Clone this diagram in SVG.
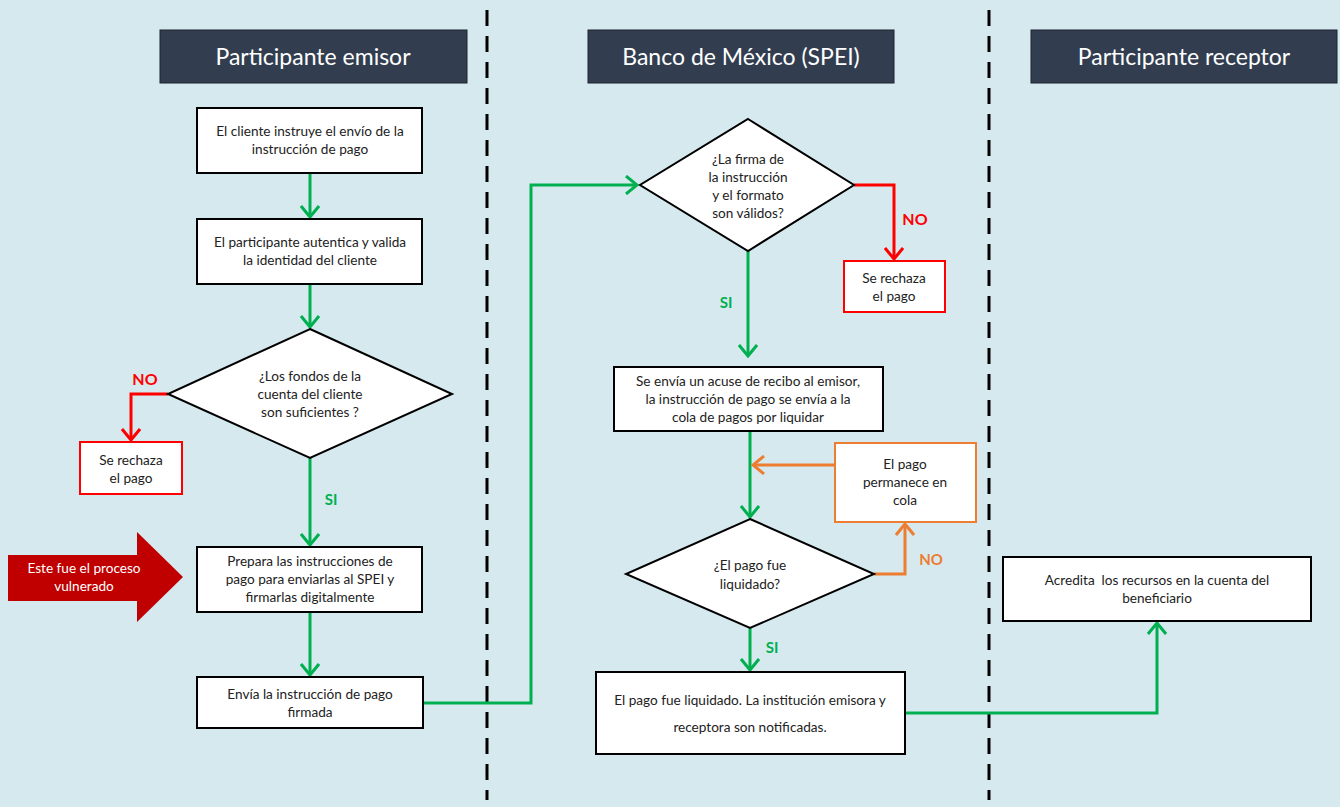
<svg xmlns="http://www.w3.org/2000/svg" width="1340" height="807" viewBox="0 0 1340 807">
<style>
.bg{fill:#d6e9ef}
.lane{stroke:#000;stroke-width:3;stroke-dasharray:16 10}
.hdr rect{fill:#323e50;stroke:#1c232d;stroke-width:1}
.hdr text{fill:#fff;font-family:Lato,"Liberation Sans",sans-serif;font-size:23px;text-anchor:middle}
.box{fill:#fff;stroke:#000;stroke-width:2}
.rbox{fill:#fff;stroke:#ff0000;stroke-width:2}
.obox{fill:#fff;stroke:#ed7d31;stroke-width:2}
.t{font-family:Lato,"Liberation Sans",sans-serif;font-size:13.6px;fill:#222;text-anchor:middle}
.g{fill:none;stroke:#00b050;stroke-width:3}
.r{fill:none;stroke:#ff0000;stroke-width:3}
.o{fill:none;stroke:#ed7d31;stroke-width:3}
.lg{font-family:Lato,"Liberation Sans",sans-serif;font-weight:bold;font-size:15px;fill:#00b050}
.lr{font-family:Lato,"Liberation Sans",sans-serif;font-weight:bold;font-size:16px;fill:#ff0000}
.lo{font-family:Lato,"Liberation Sans",sans-serif;font-weight:bold;font-size:15px;fill:#ed7d31}
</style>
<defs>
<marker id="ag" viewBox="0 0 14 20" refX="12" refY="10" markerWidth="14" markerHeight="20" markerUnits="userSpaceOnUse" orient="auto"><path d="M1,1 L12,10 L1,19" fill="none" stroke="#00b050" stroke-width="3"/></marker>
<marker id="ar" viewBox="0 0 14 20" refX="12" refY="10" markerWidth="14" markerHeight="20" markerUnits="userSpaceOnUse" orient="auto"><path d="M1,1 L12,10 L1,19" fill="none" stroke="#ff0000" stroke-width="3"/></marker>
<marker id="ao" viewBox="0 0 14 20" refX="12" refY="10" markerWidth="14" markerHeight="20" markerUnits="userSpaceOnUse" orient="auto"><path d="M1,1 L12,10 L1,19" fill="none" stroke="#ed7d31" stroke-width="3"/></marker>
</defs>
<rect class="bg" x="0" y="0" width="1340" height="807"/>
<g id="lanes">
<line class="lane" x1="487" y1="10" x2="487" y2="800"/>
<line class="lane" x1="989" y1="10" x2="989" y2="800"/>
</g>
<g id="h1" class="hdr"><rect x="160" y="30" width="307" height="53"/><text x="313" y="65">Participante emisor</text></g>
<g id="h2" class="hdr"><rect x="588" y="30" width="306" height="53"/><text x="741" y="65">Banco de México (SPEI)</text></g>
<g id="h3" class="hdr"><rect x="1031" y="30" width="306" height="53"/><text x="1184" y="65">Participante receptor</text></g>

<g id="connectors">
<path class="g" d="M310,173 V217" marker-end="url(#ag)"/>
<path class="g" d="M310,284 V327" marker-end="url(#ag)"/>
<path class="r" d="M168,394 H131 V440" marker-end="url(#ar)"/>
<text class="lr" x="145" y="385" text-anchor="middle">NO</text>
<path class="g" d="M310,458 V545" marker-end="url(#ag)"/>
<text class="lg" x="331" y="505" text-anchor="middle">SI</text>
<path class="g" d="M310,612 V675" marker-end="url(#ag)"/>
<path class="g" d="M423,703 H531 V185 H637" marker-end="url(#ag)"/>
<path class="r" d="M854,185 H894 V259" marker-end="url(#ar)"/>
<text class="lr" x="915" y="225" text-anchor="middle">NO</text>
<path class="g" d="M748,251 V356" marker-end="url(#ag)"/>
<text class="lg" x="726" y="308" text-anchor="middle">SI</text>
<path class="g" d="M750,431 V517" marker-end="url(#ag)"/>
<path class="o" d="M835,465 H753" marker-end="url(#ao)"/>
<path class="o" d="M874,574 H905 V524" marker-end="url(#ao)"/>
<text class="lo" x="931" y="565" text-anchor="middle">NO</text>
<path class="g" d="M750,628 V670" marker-end="url(#ag)"/>
<text class="lg" x="772" y="653" text-anchor="middle">SI</text>
<path class="g" d="M905,713 H1157 V623" marker-end="url(#ag)"/>
</g>

<g id="n1"><rect class="box" x="197" y="108" width="225" height="65"/>
<text class="t" x="310" y="136">El cliente instruye el envío de la</text>
<text class="t" x="310" y="154">instrucción de pago</text></g>
<g id="n2"><rect class="box" x="197" y="219" width="225" height="65"/>
<text class="t" x="310" y="247">El participante autentica y valida</text>
<text class="t" x="310" y="265">la identidad del cliente</text></g>
<g id="d1"><polygon class="box" points="310,329 452,394 310,458 168,394"/>
<text class="t" x="310" y="381">¿Los fondos de la</text>
<text class="t" x="310" y="399">cuenta del cliente</text>
<text class="t" x="310" y="417">son suficientes ?</text></g>
<g id="rej1"><rect class="rbox" x="80" y="442" width="102" height="52"/>
<text class="t" x="131" y="465">Se rechaza</text>
<text class="t" x="131" y="483">el pago</text></g>
<g id="vuln"><polygon points="8,555 137,555 137,532 183,577 137,622 137,601 8,601" fill="#c00000"/>
<text x="84" y="573" font-family="Lato,'Liberation Sans',sans-serif" font-size="13.6" fill="#fff" text-anchor="middle">Este fue el proceso</text>
<text x="84" y="591" font-family="Lato,'Liberation Sans',sans-serif" font-size="13.6" fill="#fff" text-anchor="middle">vulnerado</text></g>
<g id="n3"><rect class="box" x="197" y="547" width="225" height="65"/>
<text class="t" x="310" y="566">Prepara las instrucciones de</text>
<text class="t" x="310" y="584">pago para enviarlas al SPEI y</text>
<text class="t" x="310" y="602">firmarlas digitalmente</text></g>
<g id="n4"><rect class="box" x="197" y="677" width="226" height="51"/>
<text class="t" x="310" y="699">Envía la instrucción de pago</text>
<text class="t" x="310" y="717">firmada</text></g>

<g id="d2"><polygon class="box" points="748,119 854,185 748,251 640,185"/>
<text class="t" x="748" y="164">¿La firma de</text>
<text class="t" x="748" y="182">la instrucción</text>
<text class="t" x="748" y="200">y el formato</text>
<text class="t" x="748" y="218">son válidos?</text></g>
<g id="rej2"><rect class="rbox" x="844" y="261" width="101" height="51"/>
<text class="t" x="894" y="283">Se rechaza</text>
<text class="t" x="894" y="301">el pago</text></g>
<g id="n5"><rect class="box" x="614" y="367" width="269" height="64"/>
<text class="t" x="748" y="386">Se envía un acuse de recibo al emisor,</text>
<text class="t" x="748" y="404">la instrucción de pago se envía a la</text>
<text class="t" x="748" y="422">cola de pagos por liquidar</text></g>
<g id="queue"><rect class="obox" x="835" y="443" width="141" height="79"/>
<text class="t" x="905" y="469">El pago</text>
<text class="t" x="905" y="487">permanece en</text>
<text class="t" x="905" y="505">cola</text></g>
<g id="d3"><polygon class="box" points="750,519 874,574 750,628 626,574"/>
<text class="t" x="750" y="570">¿El pago fue</text>
<text class="t" x="750" y="589">liquidado?</text></g>
<g id="n6"><rect class="box" x="596" y="672" width="309" height="82"/>
<text class="t" x="750" y="705">El pago fue liquidado. La institución emisora y</text>
<text class="t" x="750" y="732">receptora son notificadas.</text></g>

<g id="n7"><rect class="box" x="1003" y="557" width="308" height="64"/>
<text class="t" x="1157" y="585" style="white-space:pre">Acredita  los recursos en la cuenta del</text>
<text class="t" x="1157" y="603">beneficiario</text></g>
</svg>
